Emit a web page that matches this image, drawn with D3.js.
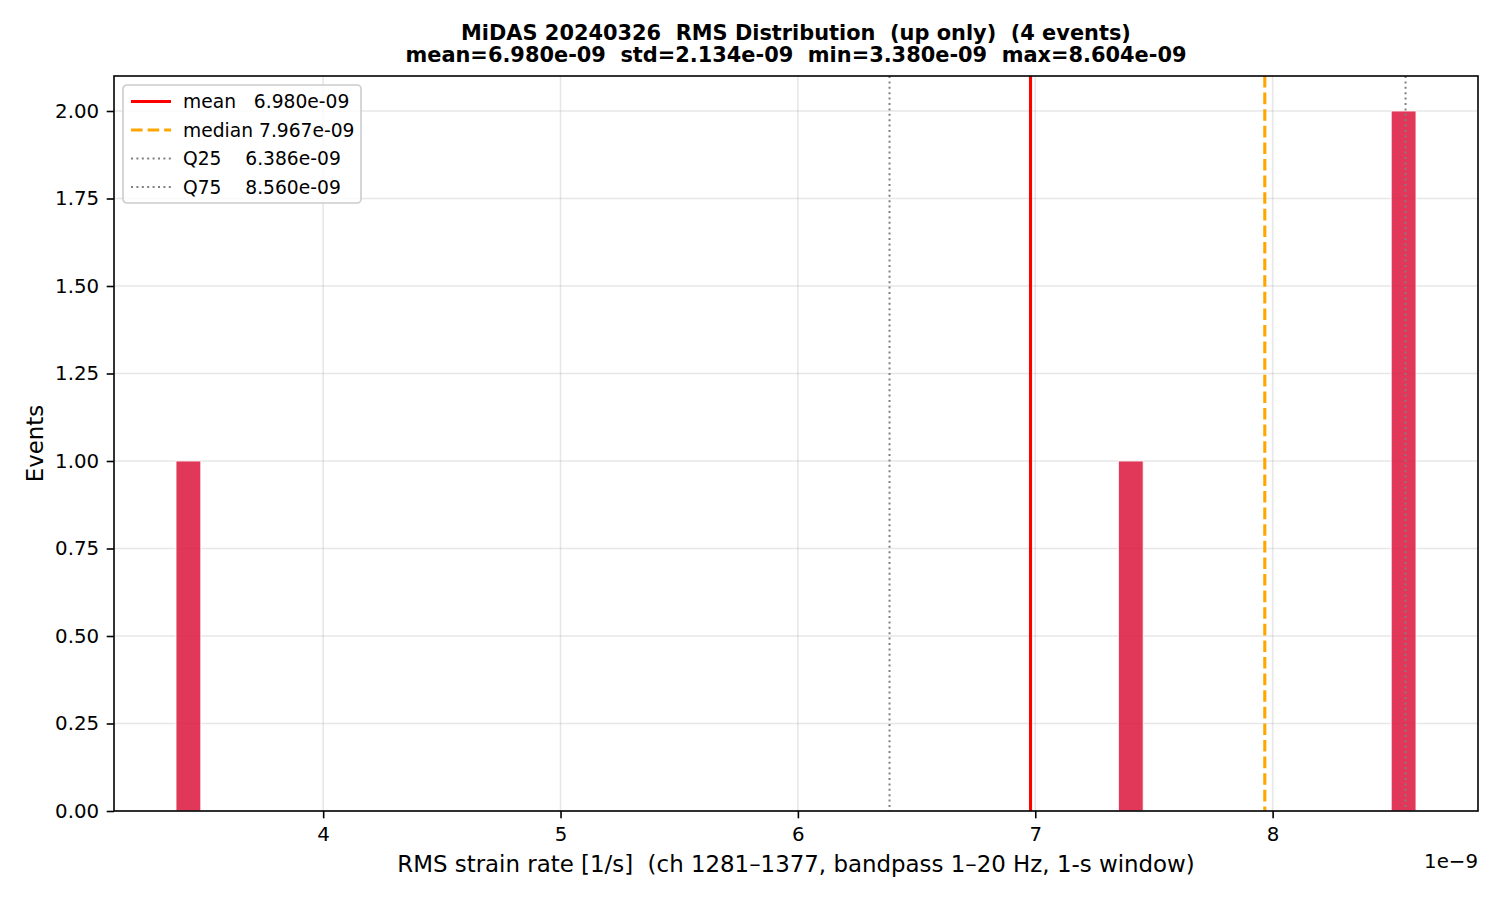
<!DOCTYPE html>
<html>
<head>
<meta charset="utf-8">
<script src="https://cdn.jsdelivr.net/npm/d3@7/dist/d3.min.js"></script>
<style>
  html, body { margin: 0; padding: 0; background: #fff; }
  svg { display: block; font-family: "DejaVu Sans", sans-serif; }
  text { white-space: pre; }
</style>
</head>
<body>
<svg id="chart" width="1500" height="900"></svg>
<script>
// ---- data (values in units of 1e-9 s^-1) ----
const eventRms = [3.380, 7.389, 8.545, 8.604];
const binCount = 50;
const statLabels = ["mean   6.980e-09", "median 7.967e-09", "Q25    6.386e-09", "Q75    8.560e-09"];
const statValues = [6.980, 7.967, 6.386, 8.560];
const xTicks = [4, 5, 6, 7, 8];
const yTicks = [0, 0.25, 0.5, 0.75, 1.0, 1.25, 1.5, 1.75, 2.0];
const titleLines = [
  "MiDAS 20240326  RMS Distribution  (up only)  (4 events)",
  "mean=6.980e-09  std=2.134e-09  min=3.380e-09  max=8.604e-09"
];
const xLabel = "RMS strain rate [1/s]  (ch 1281\u20131377, bandpass 1\u201320 Hz, 1-s window)";
const yLabel = "Events";

// ---- layout ----
const L = 114, R = 1478, T = 76, B = 811;
const svg = d3.select("#chart");

const lo = d3.min(eventRms), hi = d3.max(eventRms);
const bw = (hi - lo) / binCount;
const thresholds = d3.range(1, binCount).map(i => lo + i * bw);
const bins = d3.bin().domain([lo, hi]).thresholds(thresholds)(eventRms);

const pad = (hi - lo) * 0.05;
const x = d3.scaleLinear().domain([lo - pad, hi + pad]).range([L, R]);
const yMax = d3.max(bins, b => b.length) * 1.05;
const y = d3.scaleLinear().domain([0, yMax]).range([B, T]);

const tickFont = 19.8;
const labelFont = 22.9;
const titleFont = 20.9;
const legendFont = 18.7;

// grid
const grid = svg.append("g");
grid.selectAll("line.gx").data(xTicks).join("line")
  .attr("x1", d => x(d)).attr("x2", d => x(d)).attr("y1", T).attr("y2", B)
  .attr("stroke", "#b0b0b0").attr("stroke-opacity", 0.3).attr("stroke-width", 1.6);
grid.selectAll("line.gy").data(yTicks).join("line")
  .attr("y1", d => y(d)).attr("y2", d => y(d)).attr("x1", L).attr("x2", R)
  .attr("stroke", "#b0b0b0").attr("stroke-opacity", 0.3).attr("stroke-width", 1.6);

// bars
svg.append("g").selectAll("rect").data(bins.filter(b => b.length > 0)).join("rect")
  .attr("x", d => x(d.x0)).attr("width", d => x(d.x1) - x(d.x0))
  .attr("y", d => y(d.length)).attr("height", d => y(0) - y(d.length))
  .attr("fill", "crimson").attr("fill-opacity", 0.85)
  .attr("stroke", "#ffffff").attr("stroke-width", 1).attr("stroke-opacity", 0.85);

// stat lines
const statStyles = [
  { color: "red", width: 3.1, dash: null },
  { color: "orange", width: 3.1, dash: "11.6,5" },
  { color: "gray", width: 2.0, dash: "2,3.4" },
  { color: "gray", width: 2.0, dash: "2,3.4" }
];
svg.append("g").selectAll("line").data(statValues).join("line")
  .attr("x1", d => x(d)).attr("x2", d => x(d)).attr("y1", T).attr("y2", B)
  .attr("stroke", (d, i) => statStyles[i].color)
  .attr("stroke-width", (d, i) => statStyles[i].width)
  .attr("stroke-dasharray", (d, i) => statStyles[i].dash);

// axes
const xAxis = svg.append("g").attr("transform", `translate(0,${B})`)
  .call(d3.axisBottom(x).tickValues(xTicks).tickFormat(d3.format("d")).tickSize(7.3).tickPadding(7));
const yAxis = svg.append("g").attr("transform", `translate(${L},0)`)
  .call(d3.axisLeft(y).tickValues(yTicks).tickFormat(d3.format(".2f")).tickSize(7.3).tickPadding(7.6));
[xAxis, yAxis].forEach(g => {
  g.select(".domain").remove();
  g.selectAll(".tick line").attr("stroke", "#000").attr("stroke-width", 1.6);
  g.selectAll(".tick text").attr("fill", "#000").attr("font-size", tickFont)
    .attr("font-family", "DejaVu Sans");
});
xAxis.selectAll(".tick text").attr("dy", "0.78em");

// spines
svg.append("rect").attr("x", L).attr("y", T).attr("width", R - L).attr("height", B - T)
  .attr("fill", "none").attr("stroke", "#000").attr("stroke-width", 1.6);

// legend
const leg = svg.append("g").attr("transform", "translate(123,85)");
leg.append("rect").attr("width", 238).attr("height", 118).attr("rx", 4)
  .attr("fill", "#fff").attr("fill-opacity", 0.8)
  .attr("stroke", "#cccccc").attr("stroke-width", 1.6);
statLabels.forEach((lab, i) => {
  const cy = 16.5 + i * 28.5;
  leg.append("line").attr("x1", 8).attr("x2", 48).attr("y1", cy).attr("y2", cy)
    .attr("stroke", statStyles[i].color)
    .attr("stroke-width", i < 2 ? 3.1 : 2.0)
    .attr("stroke-dasharray", statStyles[i].dash);
  leg.append("text").attr("x", 60).attr("y", cy + 6.6)
    .attr("font-size", legendFont).attr("fill", "#000").text(lab);
});

// title
svg.append("g").selectAll("text").data(titleLines).join("text")
  .attr("x", (L + R) / 2).attr("y", (d, i) => 40 + i * 22)
  .attr("text-anchor", "middle").attr("font-weight", "bold").attr("font-size", titleFont)
  .attr("fill", "#000").text(d => d);

// axis labels
svg.append("text").attr("x", (L + R) / 2).attr("y", 872).attr("text-anchor", "middle")
  .attr("font-size", labelFont).attr("fill", "#000").text(xLabel);
svg.append("text").attr("transform", `translate(43,${(T + B) / 2}) rotate(-90)`)
  .attr("text-anchor", "middle").attr("font-size", labelFont).attr("fill", "#000").text(yLabel);
svg.append("text").attr("x", R).attr("y", 868).attr("text-anchor", "end")
  .attr("font-size", tickFont).attr("fill", "#000").text("1e\u22129");
</script>
</body>
</html>
